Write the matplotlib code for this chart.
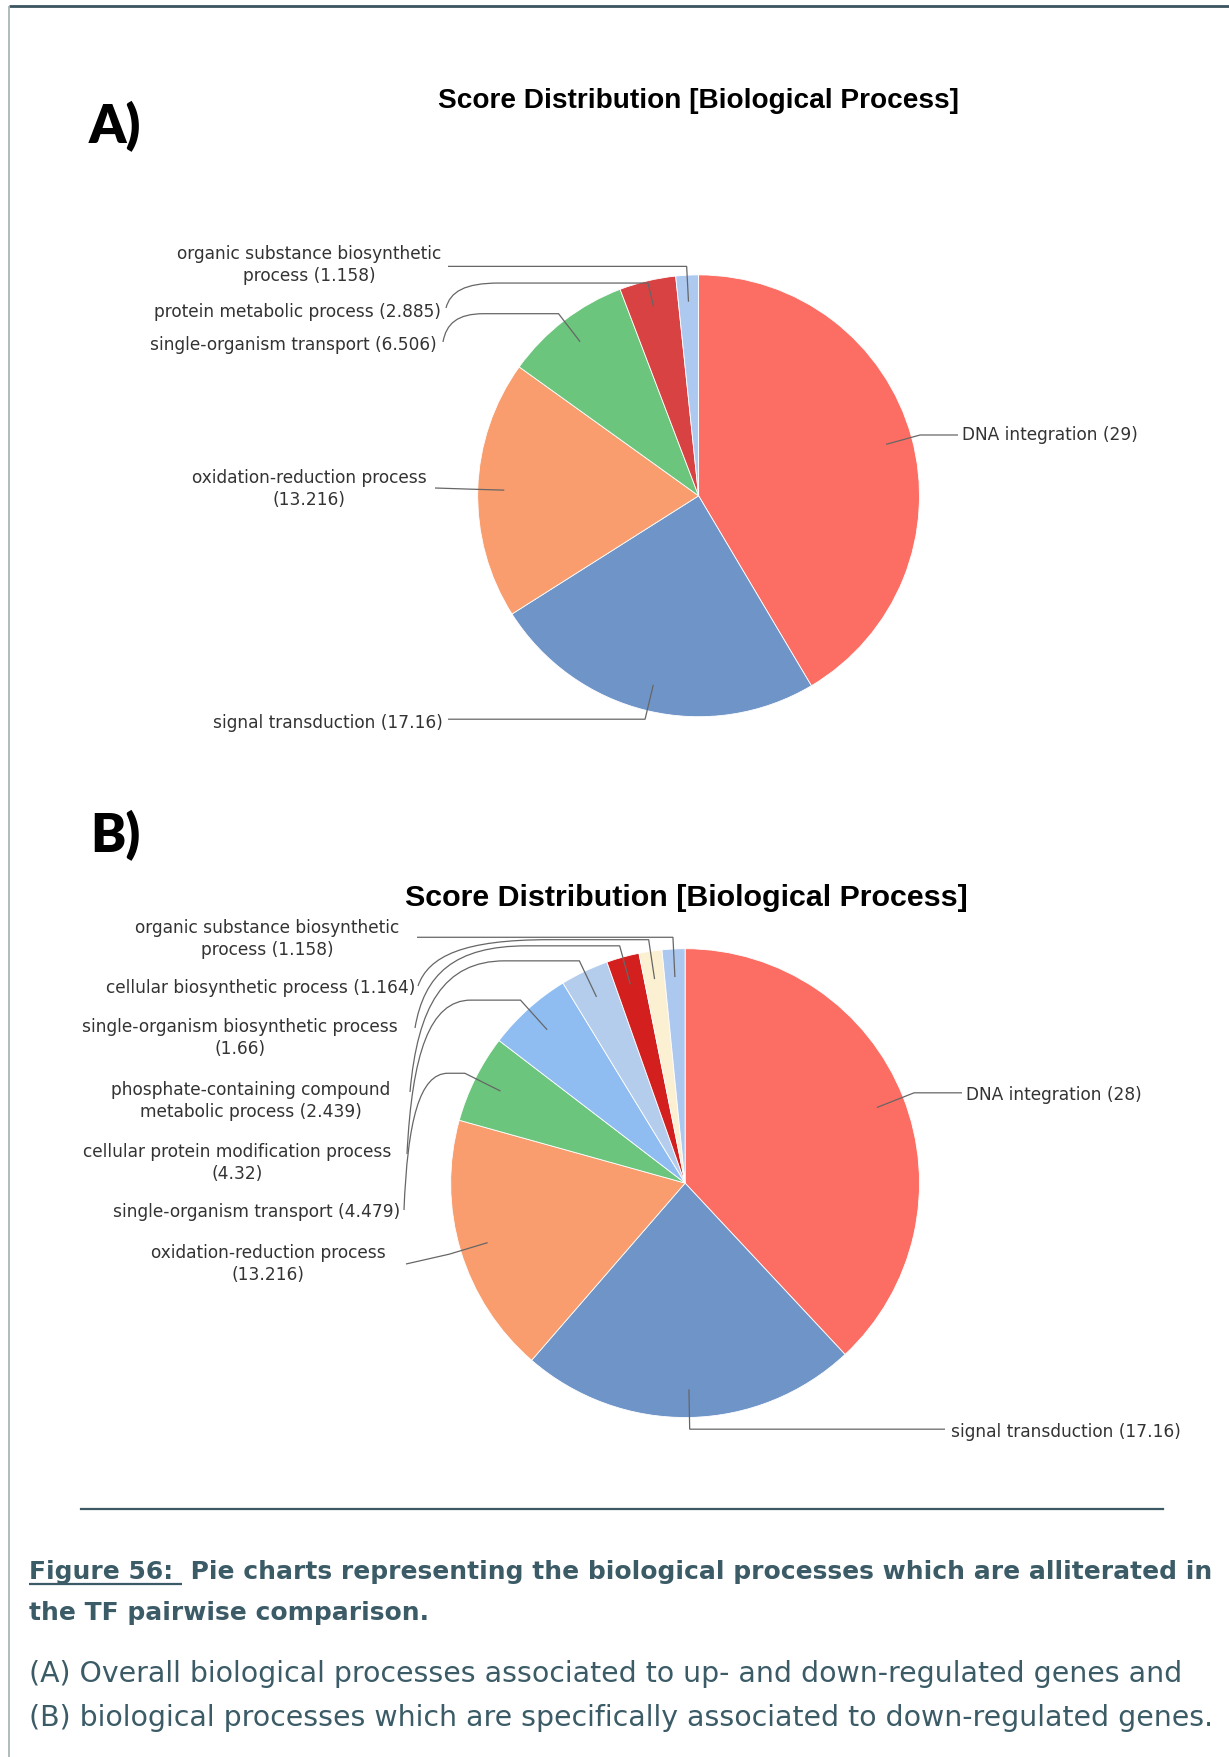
import matplotlib
matplotlib.use("Agg")
import matplotlib.pyplot as plt
from matplotlib.path import Path
from matplotlib.patches import PathPatch
import numpy as np

W, H = 1229, 1758

# ---- panel A: overall up- and down-regulated genes ----
a_names = ["DNA integration", "signal transduction", "oxidation-reduction process\n",
           "single-organism transport", "protein metabolic process",
           "organic substance biosynthetic\nprocess"]
a_values = [29, 17.16, 13.216, 6.506, 2.885, 1.158]
a_colors = ["#fc6e63", "#6f94c8", "#f99d6f", "#6cc57c", "#d94242", "#adc9ef"]

# ---- panel B: down-regulated genes only ----
b_names = ["DNA integration", "signal transduction", "oxidation-reduction process\n",
           "single-organism transport", "cellular protein modification process\n",
           "phosphate-containing compound\nmetabolic process",
           "single-organism biosynthetic process\n",
           "cellular biosynthetic process",
           "organic substance biosynthetic\nprocess"]
b_values = [28, 17.16, 13.216, 4.479, 4.32, 2.439, 1.66, 1.164, 1.158]
b_colors = ["#fc6e63", "#6f94c8", "#f99d6f", "#6cc57c", "#8fbdf2", "#b4cdec",
            "#d41f1f", "#fbf0d2", "#adc8ee"]

chart_title = "Score Distribution [Biological Process]"
cap_head = "Figure 56:"
cap_lines = ["Figure 56:  Pie charts representing the biological processes which are alliterated in",
             "the TF pairwise comparison.",
             "(A) Overall biological processes associated to up- and down-regulated genes and",
             "(B) biological processes which are specifically associated to down-regulated genes."]

LABEL_FONT = ["Liberation Sans Narrow", "DejaVu Sans"]
CAP_COLOR = "#3b5b66"
LEAD_COLOR = "#666666"

fig = plt.figure(figsize=(W / 100, H / 100), dpi=100)
fig.patch.set_facecolor("white")
ax = fig.add_axes([0, 0, 1, 1])
renderer = fig.canvas.get_renderer()


def Y(y):
    # positions are measured from the top of the page
    return H - y


def text_width(s, size, **kw):
    t = fig.text(0, 0, s, fontsize=size, **kw)
    w = t.get_window_extent(renderer).width
    t.remove()
    return w


def fit_size(s, width, **kw):
    return 10 * width / text_width(s, 10, **kw)


def label_text(name, v):
    sep = "" if name.endswith("\n") else " "
    return f"{name}{sep}({v:g})"


label_size = fit_size("signal transduction (17.16)", 230, family=LABEL_FONT)


def draw_pie(values, names, colors, cx, cy, r, specs, r_knee, r_in=0.88):
    wedges, _ = ax.pie(values, colors=colors, center=(cx, Y(cy)), radius=r,
                       startangle=90, counterclock=False,
                       wedgeprops=dict(edgecolor="white", linewidth=0.6))
    for w, name, v, sp in zip(wedges, names, values, specs):
        tx, ty, ha, ex, ey, xh = sp[:6]
        rk = sp[6] if len(sp) > 6 else r_knee
        mid = np.deg2rad((w.theta1 + w.theta2) / 2)
        p_in = (cx + r * r_in * np.cos(mid), Y(cy) + r * r_in * np.sin(mid))
        p_k = (cx + r * rk * np.cos(mid), Y(cy) + r * rk * np.sin(mid))
        verts = [p_in, p_k]
        codes = [Path.MOVETO, Path.LINETO]
        if ey is None:
            verts.append((ex, p_k[1]))
            codes.append(Path.LINETO)
        elif xh is None:
            verts.append((ex, Y(ey)))
            codes.append(Path.LINETO)
        else:
            yk = p_k[1]
            y0 = Y(ey)
            verts += [(xh, yk),
                      (ex + 0.35 * (xh - ex), yk),
                      (ex + 0.08 * (xh - ex), yk + 0.35 * (y0 - yk)),
                      (ex, y0)]
            codes += [Path.LINETO, Path.CURVE4, Path.CURVE4, Path.CURVE4]
        ax.add_patch(PathPatch(Path(verts, codes), fill=False,
                               edgecolor=LEAD_COLOR, linewidth=0.9))
        ax.text(tx, Y(ty), label_text(name, v), ha=ha, va="center",
                multialignment="center", fontsize=label_size,
                family=LABEL_FONT, color="#333333", linespacing=1.25)


# label placement: text x, text y, alignment, leader end x, leader end y, curve x
a_specs = [
    (962, 435, "left", 958, None, None),
    (443, 723, "right", 448, None, None),
    (309, 489, "center", 435, 489, None),
    (437, 345, "right", 443, 343, 484),
    (441, 312, "right", 446, 309, 499, 0.99),
    (309, 265, "center", 448, None, None),
]
b_specs = [
    (966, 1095, "left", 962, None, None),
    (951, 1432, "left", 945, None, None),
    (268, 1264, "center", 406, 1265, None),
    (400, 1212, "right", 404, 1211, 448),
    (237, 1163, "center", 407, 1155, 471),
    (251, 1101, "center", 410, 1093, 505),
    (240, 1038, "center", 415, 1029, 527),
    (415, 988, "right", 418, 987, 549),
    (267, 939, "center", 417, None, None),
]

draw_pie(a_values, a_names, a_colors, 698.6, 496.8, 220.9, a_specs, 1.04)
draw_pie(b_values, b_names, b_colors, 685.1, 1184.1, 234.4, b_specs, 1.05)

ax.set_xlim(0, W)
ax.set_ylim(0, H)
ax.axis("off")

# chart titles and panel letters
ax.text(698.6, Y(108), chart_title, ha="center", va="baseline", color="black",
        family="Liberation Sans", weight="bold",
        fontsize=fit_size(chart_title, 518, family="Liberation Sans", weight="bold"))
ax.text(686.3, Y(906), chart_title, ha="center", va="baseline", color="black",
        family="Liberation Sans", weight="bold",
        fontsize=fit_size(chart_title, 563, family="Liberation Sans", weight="bold"))
ax.text(89, Y(143), "A)", ha="left", va="baseline", family="Lato",
        weight="heavy", fontsize=38, color="black")
ax.text(90, Y(852), "B)", ha="left", va="baseline", family="Lato",
        weight="heavy", fontsize=38, color="black")

# page frame and rule above the caption
ax.plot([9, W], [Y(7), Y(7)], color="#3b5560", lw=2, solid_capstyle="butt")
ax.plot([9, 9], [Y(7), 0], color="#9fb0b5", lw=1.2, solid_capstyle="butt")
ax.plot([81, 1163], [Y(1510), Y(1510)], color="#3d5a64", lw=1.6)

# caption
cap_font = "DejaVu Sans"
bold_size = fit_size(cap_lines[0], 1182, family=cap_font, weight="bold")
reg_size = min(fit_size(cap_lines[2], 1182, family=cap_font),
               fit_size(cap_lines[3], 1184, family=cap_font))
ax.text(29, Y(1579), cap_lines[0], ha="left", va="baseline", family=cap_font,
        weight="bold", fontsize=bold_size, color=CAP_COLOR)
ax.text(29, Y(1620), cap_lines[1], ha="left", va="baseline", family=cap_font,
        weight="bold", fontsize=bold_size, color=CAP_COLOR)
ax.text(29, Y(1682), cap_lines[2], ha="left", va="baseline", family=cap_font,
        fontsize=reg_size, color=CAP_COLOR)
ax.text(29, Y(1726), cap_lines[3], ha="left", va="baseline", family=cap_font,
        fontsize=reg_size, color=CAP_COLOR)
head_w = text_width(cap_head + " ", bold_size, family=cap_font, weight="bold")
ax.plot([29, 29 + head_w], [Y(1585), Y(1585)], color=CAP_COLOR, lw=1.6,
        solid_capstyle="butt")

fig.savefig("out.png", dpi=100, facecolor="white")
